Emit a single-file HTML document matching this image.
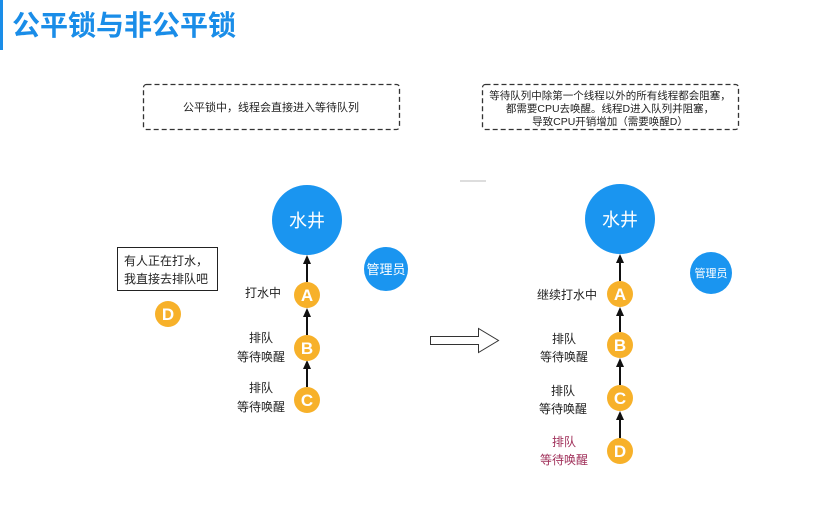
<!DOCTYPE html>
<html><head><meta charset="utf-8"><style>
html,body{margin:0;padding:0;background:#fff;width:831px;height:513px;overflow:hidden}
svg{display:block}
text{font-family:"Liberation Sans","Noto Sans CJK SC",sans-serif}
</style></head><body>
<svg width="831" height="513" viewBox="0 0 831 513" xmlns="http://www.w3.org/2000/svg">
<rect x="0" y="0" width="3" height="50" fill="#1a8de8"/>
<text x="12" y="35" font-size="28" font-weight="bold" fill="#1a8de8">公平锁与非公平锁</text>

<rect x="143.5" y="84.5" width="256" height="45" rx="3" fill="none" stroke="#333" stroke-width="1.3" stroke-dasharray="5,3"/>
<text x="271" y="111" font-size="11" fill="#222" text-anchor="middle">公平锁中，线程会直接进入等待队列</text>

<rect x="482.5" y="84.5" width="256" height="45" rx="3" fill="none" stroke="#333" stroke-width="1.3" stroke-dasharray="5,3"/>
<text x="610" y="99" font-size="10.5" fill="#222" text-anchor="middle">等待队列中除第一个线程以外的所有线程都会阻塞，</text>
<text x="610" y="112" font-size="10.5" fill="#222" text-anchor="middle">都需要CPU去唤醒。线程D进入队列并阻塞，</text>
<text x="610" y="125" font-size="10.5" fill="#222" text-anchor="middle">导致CPU开销增加（需要唤醒D）</text>

<!-- left -->
<circle cx="307" cy="220" r="35" fill="#1a95f0"/>
<text x="307" y="227" font-size="18" fill="#fff" text-anchor="middle">水井</text>
<circle cx="386" cy="269" r="22" fill="#1a95f0"/>
<text x="386" y="274" font-size="13" fill="#fff" text-anchor="middle">管理员</text>
<g stroke="#111" stroke-width="2">
<line x1="307" y1="282" x2="307" y2="262"/><line x1="307" y1="335" x2="307" y2="315"/><line x1="307" y1="387" x2="307" y2="367"/></g>
<g fill="#111">
<path d="M303,264 L307,255 L311,264 Z"/><path d="M303,317 L307,308 L311,317 Z"/><path d="M303,369 L307,360 L311,369 Z"/></g>
<g fill="#f7b12a"><circle cx="307" cy="295" r="13"/><circle cx="307" cy="348" r="13"/><circle cx="307" cy="400" r="13"/><circle cx="168" cy="314" r="13"/></g>
<g font-size="17" font-weight="bold" fill="#fff" text-anchor="middle">
<text x="307" y="301">A</text><text x="307" y="354">B</text><text x="307" y="406">C</text><text x="168" y="320">D</text></g>
<g font-size="12" fill="#222" text-anchor="middle">
<text x="263" y="297">打水中</text>
<text x="261" y="342">排队</text><text x="261" y="361">等待唤醒</text>
<text x="261" y="392">排队</text><text x="261" y="411">等待唤醒</text></g>
<rect x="117.5" y="247.5" width="100" height="43" fill="#fff" stroke="#222" stroke-width="1"/>
<text x="124" y="265" font-size="12" fill="#222">有人正在打水，</text>
<text x="124" y="283" font-size="12" fill="#222">我直接去排队吧</text>

<!-- arrow -->
<path d="M430.5,336.5 H478.5 V328.5 L498.5,340.5 L478.5,352.5 V344.5 H430.5 Z" fill="#fff" stroke="#333" stroke-width="1"/>

<!-- right -->
<circle cx="620" cy="219" r="35" fill="#1a95f0"/>
<text x="620" y="226" font-size="18" fill="#fff" text-anchor="middle">水井</text>
<circle cx="711" cy="273" r="21" fill="#1a95f0"/>
<text x="711" y="277" font-size="11" fill="#fff" text-anchor="middle">管理员</text>
<g stroke="#111" stroke-width="2">
<line x1="620" y1="281" x2="620" y2="261"/><line x1="620" y1="332" x2="620" y2="313"/><line x1="620" y1="385" x2="620" y2="364"/><line x1="620" y1="438" x2="620" y2="417"/></g>
<g fill="#111">
<path d="M616,263 L620,254 L624,263 Z"/><path d="M616,316 L620,307 L624,316 Z"/><path d="M616,367 L620,358 L624,367 Z"/><path d="M616,420 L620,411 L624,420 Z"/></g>
<g fill="#f7b12a"><circle cx="620" cy="294" r="13"/><circle cx="620" cy="345" r="13"/><circle cx="620" cy="398" r="13"/><circle cx="620" cy="451" r="13"/></g>
<g font-size="17" font-weight="bold" fill="#fff" text-anchor="middle">
<text x="620" y="300">A</text><text x="620" y="351">B</text><text x="620" y="404">C</text><text x="620" y="457">D</text></g>
<g font-size="12" fill="#222" text-anchor="middle">
<text x="567" y="299">继续打水中</text>
<text x="564" y="343">排队</text><text x="564" y="361">等待唤醒</text>
<text x="563" y="395">排队</text><text x="563" y="413">等待唤醒</text></g>
<g font-size="12" fill="#a0305a" text-anchor="middle">
<text x="564" y="446">排队</text><text x="564" y="464">等待唤醒</text></g>
<line x1="460" y1="181" x2="486" y2="181" stroke="#ddd" stroke-width="2"/>
</svg>
</body></html>
